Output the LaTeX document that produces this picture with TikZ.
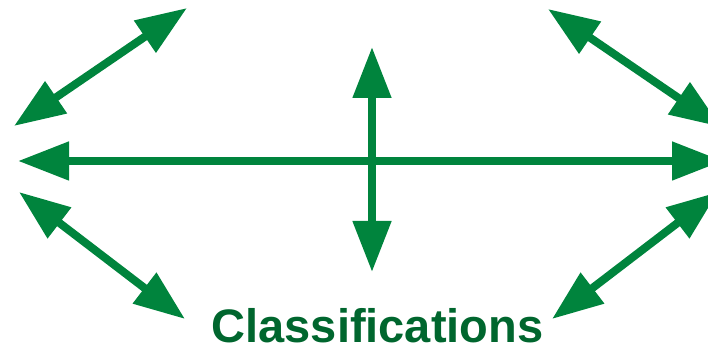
\documentclass[tikz,border=0pt]{standalone}
\usepackage{fontspec}
\setmainfont{Liberation Sans}
\usetikzlibrary{arrows.meta, positioning}
\definecolor{arrowgreen}{RGB}{0,132,61}
\definecolor{labelgreen}{RGB}{0,102,46}

\begin{document}
\begin{tikzpicture}[x=1pt, y=1pt,
  link/.style={{Triangle[length=51pt,width=37pt]}-{Triangle[length=51pt,width=37pt]},
               line width=8pt, draw=arrowgreen},
  title/.style={font=\bfseries\fontsize{47}{50}\selectfont, text=labelgreen,
                anchor=base, inner sep=0pt}
]
\useasboundingbox (0,0) rectangle (708,352);
\clip (0,0) rectangle (708,352);
% arrow ends
\coordinate (tlA) at (14,226);
\coordinate (tlB) at (187,344);
\coordinate (left) at (18,191);
\coordinate (right) at (723,191);
\coordinate (up) at (372,305);
\coordinate (down) at (372,80);
\coordinate (blA) at (19,160);
\coordinate (blB) at (185,33);
\coordinate (trA) at (548,343);
\coordinate (trB) at (721,225);
\coordinate (brA) at (552,33);
\coordinate (brB) at (718,160);
\node[title] (label) at (377.5,9) {Classifications};
% connectors
\draw[link] (tlA) -- (tlB);
\draw[link] (left) -- (right);
\draw[link] (up) -- (down);
\draw[link] (blA) -- (blB);
\draw[link] (trA) -- (trB);
\draw[link] (brA) -- (brB);
\end{tikzpicture}
\end{document}
